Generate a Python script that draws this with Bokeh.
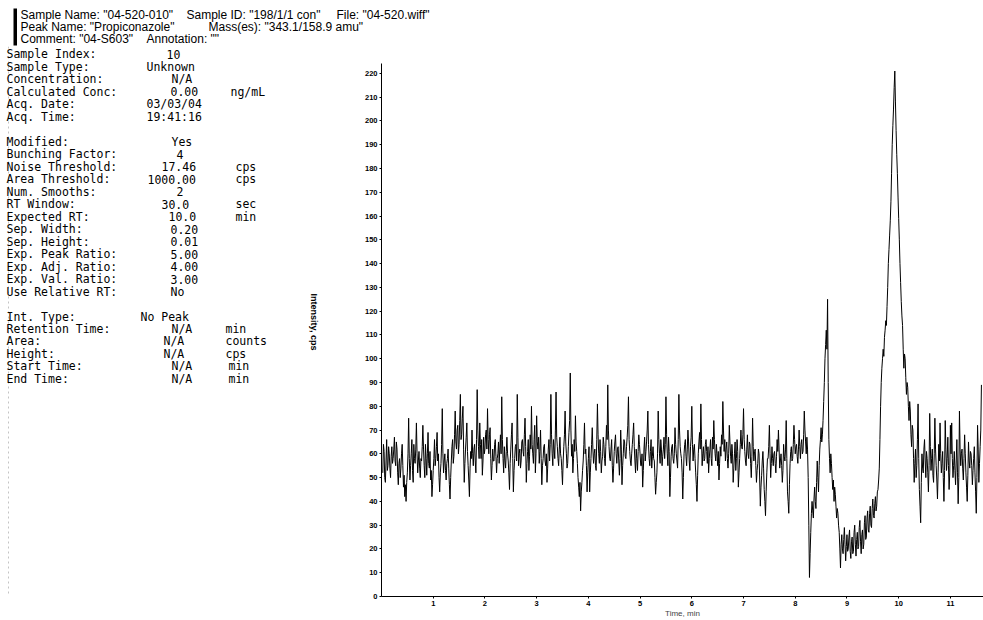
import numpy as np
from bokeh.plotting import figure
from bokeh.layouts import column, row
from bokeh.models import Range1d, FixedTicker
from bokeh.core.properties import value
from bokeh.embed import file_html
from bokeh.resources import INLINE

# ---------------- data ----------------
time_start = 0.025    # min
time_step = 0.0125    # min, sampling interval of the trace

seg_00 = [52, 64, 61, 50, 48, 57, 66, 53, 55, 63, 60, 54, 50, 59, 63, 56, 58, 62, 67, 57,
          55, 65, 62, 52, 47, 56, 58, 50, 54, 60, 64, 55, 46, 51, 42, 47, 40, 48, 52, 60,
          75, 58, 49, 55, 60, 66, 53, 48, 64, 58, 56, 62, 73, 60, 52, 57, 61, 54, 50, 58,
          57, 63, 72, 62, 55, 50, 64, 58, 51, 60, 69, 56, 54, 61, 49, 53, 42, 47, 53, 58]
seg_01 = [66, 55, 58, 63, 69, 57, 60, 50, 44, 52, 56, 64, 79, 60, 52, 57, 60, 53, 49, 56,
          58, 62, 54, 47, 41, 50, 57, 63, 66, 56, 59, 68, 78, 65, 62, 70, 72, 60, 64, 74,
          85, 66, 68, 75, 80, 62, 48, 56, 62, 67, 73, 61, 55, 49, 42, 54, 61, 58, 70, 60,
          55, 62, 64, 57, 52, 66, 87, 70, 63, 58, 73, 64, 58, 66, 51, 57, 67, 60, 62, 68]
seg_02 = [70, 62, 79, 66, 60, 68, 71, 58, 49, 55, 62, 57, 57, 64, 66, 59, 52, 58, 60, 65,
          56, 62, 68, 60, 84, 66, 58, 52, 63, 57, 54, 61, 67, 60, 57, 52, 45, 56, 62, 68,
          73, 58, 44, 53, 58, 63, 64, 57, 85, 67, 55, 60, 62, 54, 57, 65, 66, 61, 59, 68,
          75, 63, 48, 56, 61, 66, 53, 59, 68, 62, 80, 64, 60, 56, 66, 72, 52, 60, 76, 65]
seg_03 = [62, 67, 56, 61, 70, 58, 47, 55, 58, 63, 64, 57, 55, 60, 48, 54, 62, 66, 57, 64,
          85, 68, 60, 55, 66, 62, 58, 70, 86, 67, 63, 58, 55, 62, 67, 60, 58, 53, 47, 57,
          63, 68, 78, 65, 60, 54, 56, 63, 69, 74, 94, 70, 59, 64, 52, 58, 66, 61, 76, 65,
          61, 56, 50, 46, 42, 48, 36, 44, 48, 53, 57, 64, 73, 60, 62, 55, 44, 52, 58, 63]
seg_04 = [44, 52, 58, 64, 71, 62, 56, 60, 62, 55, 53, 66, 81, 68, 60, 56, 66, 61, 52, 57,
          59, 67, 64, 58, 55, 63, 72, 66, 89, 70, 63, 58, 57, 62, 66, 55, 48, 54, 61, 65,
          68, 60, 56, 62, 63, 57, 51, 58, 70, 62, 47, 55, 60, 66, 65, 59, 58, 63, 67, 72,
          84, 66, 61, 57, 55, 60, 64, 68, 73, 63, 57, 52, 62, 58, 53, 61, 68, 64, 60, 55]
seg_05 = [55, 60, 46, 53, 62, 67, 57, 61, 65, 70, 78, 64, 58, 55, 61, 66, 54, 59, 63, 58,
          57, 50, 43, 48, 52, 60, 78, 66, 60, 56, 66, 62, 55, 59, 62, 67, 58, 64, 84, 68,
          60, 55, 67, 61, 42, 50, 59, 63, 64, 58, 56, 60, 71, 64, 60, 57, 54, 66, 85, 70,
          63, 60, 58, 52, 41, 50, 60, 64, 66, 59, 55, 62, 70, 65, 57, 53, 63, 67, 80, 64]
seg_06 = [57, 62, 64, 58, 52, 47, 40, 51, 60, 65, 69, 62, 81, 66, 55, 60, 63, 57, 58, 64,
          66, 61, 56, 63, 52, 58, 62, 66, 58, 55, 67, 62, 74, 66, 60, 57, 64, 60, 55, 61,
          49, 56, 63, 59, 68, 64, 82, 70, 61, 66, 57, 62, 65, 58, 54, 60, 72, 65, 59, 56,
          64, 60, 48, 54, 60, 65, 53, 58, 66, 61, 46, 52, 58, 64, 70, 63, 62, 68, 79, 66]
seg_07 = [61, 57, 55, 62, 68, 60, 58, 65, 64, 56, 50, 59, 75, 63, 57, 61, 62, 55, 48, 53,
          56, 62, 60, 49, 38, 46, 51, 57, 61, 54, 45, 40, 34, 44, 52, 58, 58, 63, 72, 60,
          50, 56, 63, 58, 55, 60, 61, 56, 52, 59, 66, 61, 70, 62, 54, 57, 60, 55, 48, 53,
          64, 59, 57, 62, 74, 58, 44, 40, 35, 47, 56, 61, 63, 57, 58, 64, 72, 66, 60, 63]
seg_08 = [64, 59, 56, 62, 70, 63, 58, 64, 66, 60, 61, 68, 78, 70, 65, 60, 67, 62, 50, 30,
          8, 18, 27, 35, 40, 36, 33, 41, 46, 40, 37, 48, 57, 50, 44, 55, 62, 66, 71, 65,
          68, 74, 82, 90, 100, 106, 112, 104, 125, 90, 66, 58, 52, 60, 56, 50, 45, 49, 40, 46,
          43, 38, 33, 37, 35, 30, 27, 20, 12, 22, 26, 20, 18, 24, 29, 22, 15, 21, 26, 19]
seg_09 = [20, 25, 28, 19, 16, 23, 25, 18, 19, 27, 30, 22, 17, 24, 27, 20, 21, 29, 32, 23,
          18, 26, 28, 20, 22, 31, 34, 24, 25, 33, 36, 28, 27, 35, 38, 30, 29, 37, 41, 34,
          33, 39, 42, 36, 38, 44, 45, 49, 54, 66, 80, 90, 96, 100, 104, 101, 109, 112, 116, 114,
          122, 130, 140, 146, 152, 158, 166, 178, 190, 198, 205, 214, 221, 208, 196, 186, 178, 168, 159, 150]
seg_10 = [140, 132, 124, 118, 114, 104, 96, 102, 100, 92, 85, 90, 88, 80, 74, 82, 78, 68, 63, 72,
          70, 58, 48, 56, 62, 50, 55, 66, 81, 58, 45, 38, 31, 48, 60, 54, 52, 62, 66, 57,
          50, 61, 58, 52, 44, 55, 77, 63, 53, 58, 62, 51, 48, 60, 75, 62, 55, 49, 41, 52,
          64, 57, 73, 60, 52, 56, 61, 50, 40, 53, 74, 62, 53, 58, 67, 55, 45, 52, 72, 60]
seg_11 = [73, 58, 50, 55, 61, 53, 47, 57, 66, 52, 39, 50, 78, 62, 55, 60, 62, 54, 49, 58,
          68, 60, 52, 46, 40, 51, 65, 57, 54, 61, 60, 55, 47, 53, 58, 63, 52, 44, 35, 50,
          72, 62, 48, 56, 63, 70, 89]

x_ticks = [1, 2, 3, 4, 5, 6, 7, 8, 9, 10, 11]
y_ticks = [0, 10, 20, 30, 40, 50, 60, 70, 80, 90, 100, 110, 120, 130, 140, 150, 160,
           170, 180, 190, 200, 210, 220]

header_texts = [
    ['Sample Name: "04-520-010"', 'Sample ID: "198/1/1 con"', 'File: "04-520.wiff"'],
    ['Peak Name: "Propiconazole"', 'Mass(es): "343.1/158.9 amu"'],
    ['Comment: "04-S603"', 'Annotation: ""'],
]

param_labels = ["Sample Index:", "Sample Type:", "Concentration:", "Calculated Conc:",
                "Acq. Date:", "Acq. Time:", "", "Modified:", "Bunching Factor:",
                "Noise Threshold:", "Area Threshold:", "Num. Smooths:", "RT Window:",
                "Expected RT:", "Sep. Width:", "Sep. Height:", "Exp. Peak Ratio:",
                "Exp. Adj. Ratio:", "Exp. Val. Ratio:", "Use Relative RT:", "",
                "Int. Type:", "Retention Time:", "Area:", "Height:", "Start Time:", "End Time:"]
param_values = ["10", "Unknown", "N/A", "0.00", "03/03/04", "19:41:16", "", "Yes", "4",
                "17.46", "1000.00", "2", "30.0", "10.0", "0.20", "0.01", "5.00", "4.00",
                "3.00", "No", "", "No Peak", "N/A", "N/A", "N/A", "N/A", "N/A"]
param_units = ["", "", "", "ng/mL", "", "", "", "", "", "cps", "cps", "", "sec", "min", "",
               "", "", "", "", "", "", "", "min", "counts", "cps", "min", "min"]

y_title = "Intensity, cps"
x_title = "Time, min"

intensity = (seg_00 + seg_01 + seg_02 + seg_03 + seg_04 + seg_05 + seg_06 + seg_07 +
             seg_08 + seg_09 + seg_10 + seg_11)
time = time_start + time_step * np.arange(len(intensity))

# ---------------- layout (page pixels) ----------------
W, H = 983, 620
HEAD_H = 46            # header strip height
LEFT_W = 330           # width of the parameter panel
FRAME_L, FRAME_R, FRAME_T, FRAME_B = 381, 983, 46, 597
PX_PER_CPS = 2.382     # vertical scale of the chart
Y_AXIS_TOP = 224       # the y axis line stops here

MONO = value("DejaVu Sans Mono")
SANS = value("Liberation Sans")


def blank_fig(w, h, xr, yr):
    f = figure(width=w, height=h, output_backend="svg", toolbar_location=None,
               x_range=xr, y_range=yr, min_border=0,
               x_axis_location=None, y_axis_location=None)
    f.grid.visible = False
    f.outline_line_color = None
    f.background_fill_color = "white"
    f.border_fill_color = "white"
    return f


# header strip: data coordinates == page pixels
ph = blank_fig(W, HEAD_H, Range1d(0, W), Range1d(HEAD_H, 0))
# parameter panel: its frame is aligned with the chart frame, so page pixels there too
pl = blank_fig(LEFT_W, H - HEAD_H, Range1d(0, LEFT_W), Range1d(FRAME_B, FRAME_T))

# chart
pc = figure(width=W - LEFT_W, height=H - HEAD_H, output_backend="svg",
            toolbar_location=None,
            x_range=Range1d(0.0, 11.64),
            y_range=Range1d(0.0, (FRAME_B - FRAME_T) / PX_PER_CPS),
            min_border_left=FRAME_L - LEFT_W, min_border_right=W - FRAME_R,
            min_border_top=FRAME_T - HEAD_H, min_border_bottom=H - FRAME_B)
pc.grid.visible = False
pc.outline_line_color = None
pc.background_fill_color = "white"
pc.border_fill_color = "white"

pc.line(time, intensity, line_color="black", line_width=1)

pc.xaxis.ticker = FixedTicker(ticks=x_ticks)
pc.yaxis.ticker = FixedTicker(ticks=y_ticks)
pc.yaxis.bounds = (0, Y_AXIS_TOP)
for ax in (pc.xaxis[0], pc.yaxis[0]):
    ax.axis_line_color = "black"
    ax.axis_line_width = 1
    ax.major_tick_line_color = "black"
    ax.major_tick_out = 2
    ax.major_tick_in = 0
    ax.minor_tick_line_color = None
    ax.major_label_standoff = 2
    ax.major_label_text_font = "Liberation Sans"
    ax.major_label_text_font_size = "7.5px"
    ax.major_label_text_font_style = "bold"
    ax.major_label_text_color = "black"
pc.xaxis.axis_label = x_title
pc.xaxis.axis_label_text_font = "Liberation Sans"
pc.xaxis.axis_label_text_font_size = "8px"
pc.xaxis.axis_label_text_font_style = "normal"
pc.xaxis.axis_label_standoff = 0

# ---------------- header ----------------
ph.quad(left=[13], right=[16.5], top=[8], bottom=[45], fill_color="black", line_color=None)
pl.segment(x0=[8], y0=[FRAME_T], x1=[8], y1=[FRAME_B], line_color="#c4c4c4",
           line_dash="2 3")

head_px = [[20, 186, 336], [20, 208], [20, 146]]
head_py = [14, 26, 38]
hx, hy, ht = [], [], []
for i, line in enumerate(header_texts):
    for j, t in enumerate(line):
        hx.append(head_px[i][j]); hy.append(head_py[i]); ht.append(t)
ph.text(x=hx, y=hy, text=ht, text_font=SANS, text_font_size="12px",
        text_baseline="middle", text_align="left", text_color="black")

# ---------------- parameter panel ----------------
row_py0, row_dpy = 54, 12.5
label_px = 6
value_px = [166, 146, 171, 170, 146, 146, 0, 171, 176, 161, 147, 176, 161, 168, 170, 170,
            170, 170, 170, 170, 0, 140, 171, 163, 163, 171, 171]
unit_px = [0, 0, 0, 230, 0, 0, 0, 0, 0, 235, 235, 0, 235, 235, 0, 0, 0, 0, 0, 0, 0, 0,
           225, 225, 225, 228, 228]
tx, ty, tt = [], [], []
for i, lab in enumerate(param_labels):
    yy = row_py0 + row_dpy * i
    for xx, t in ((label_px, lab), (value_px[i], param_values[i]), (unit_px[i], param_units[i])):
        if t:
            tx.append(xx); ty.append(yy); tt.append(t)
pl.text(x=tx, y=ty, text=tt, text_font=MONO, text_font_size="11.5px",
        text_baseline="middle", text_align="left", text_color="black")

# rotated y axis title
pl.text(x=[313], y=[322], text=[y_title], angle=-np.pi / 2, text_font=SANS,
        text_font_size="9px", text_font_style="bold", text_align="center",
        text_baseline="middle", text_color="black")

layout = column(ph, row(pl, pc, spacing=0), spacing=0)
open("out.html", "w").write(file_html(layout, INLINE))
